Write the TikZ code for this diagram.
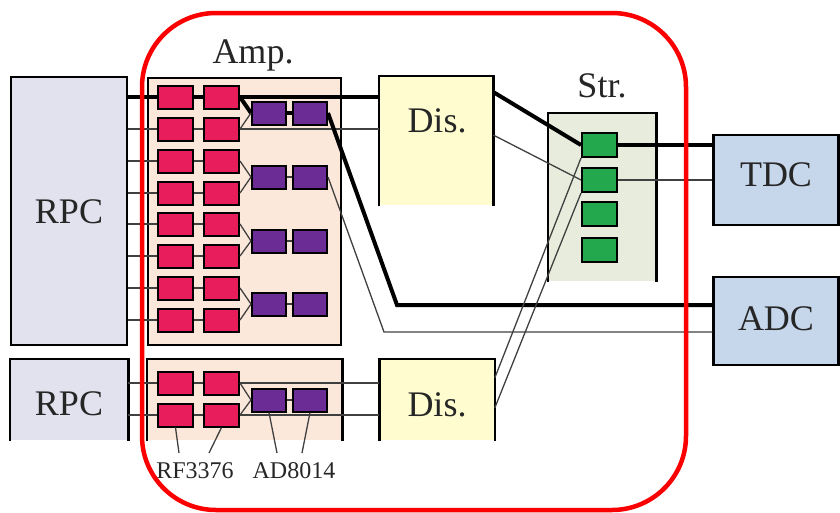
\documentclass[tikz,border=0pt]{standalone}
\usepackage{fontspec}
\setmainfont{Liberation Serif}
\definecolor{pinkc}{RGB}{232,30,92}
\definecolor{purpc}{RGB}{108,44,150}
\definecolor{grnc}{RGB}{36,168,78}
\definecolor{rpcc}{RGB}{226,226,239}
\definecolor{ampc}{RGB}{251,232,218}
\definecolor{disc}{RGB}{255,253,208}
\definecolor{strc}{RGB}{232,236,220}
\definecolor{tdcc}{RGB}{198,215,236}
\definecolor{redc}{RGB}{250,0,0}
\begin{document}
\begin{tikzpicture}[x=1pt,y=-1pt,
  bigtext/.style={anchor=base,inner sep=0pt,font=\fontsize{36}{40}\selectfont,text=black!85},
  lbltext/.style={anchor=base,inner sep=0pt,font=\fontsize{24}{28}\selectfont,text=black!85},
  panel/.style={inner sep=0pt,line width=2.5pt},
  chip/.style={draw=black,line width=2pt,minimum width=35pt,minimum height=23pt,inner sep=0pt},
  pinkchip/.style={chip,fill=pinkc},
  purpchip/.style={chip,fill=purpc,minimum width=34pt},
  grnchip/.style={chip,fill=grnc,minimum height=24pt},
  thk/.style={line width=4pt,draw=black},
  thn/.style={line width=1.3pt,draw=black!75},
  border/.style={line width=2.5pt,draw=black}
]
\useasboundingbox (0,0) rectangle (840,512);

% ---------- panels ----------
\node[panel,draw=black,fill=rpcc,minimum width=116pt,minimum height=268pt] (rpcA) at (69,211) {};
\node[panel,fill=rpcc,minimum width=116pt,minimum height=80pt] (rpcB) at (69,400) {};
\draw[border] (rpcB.south west) |- (rpcB.north east) -- (rpcB.south east);

\node[panel,draw=black,fill=ampc,minimum width=193pt,minimum height=267pt] (ampA) at (244.5,211.5) {};
\node[panel,fill=ampc,minimum width=193pt,minimum height=80pt] (ampB) at (244.5,400) {};
\draw[border] (ampB.south west) |- (ampB.north east) -- (ampB.south east);

\node[panel,fill=disc,minimum width=112pt,minimum height=128pt] (disA) at (436,141) {};
\draw[border] (disA.south west) |- (disA.north east) -- (disA.south east);
\node[panel,fill=disc,minimum width=113pt,minimum height=80pt] (disB) at (437,400) {};
\draw[border] (disB.south west) |- (disB.north east) -- (disB.south east);

\node[panel,fill=strc,minimum width=106pt,minimum height=167pt] (strb) at (602,197.5) {};
\draw[border] (strb.south west) |- (strb.north east) -- (strb.south east);

\node[panel,draw=black,fill=tdcc,minimum width=125pt,minimum height=90pt] (tdc) at (776,180) {};
\node[panel,draw=black,fill=tdcc,minimum width=125pt,minimum height=88pt] (adc) at (776,321) {};

% ---------- texts ----------
\node[bigtext] (tRpcA) at (69,223) {RPC};
\node[bigtext] (tRpcB) at (69,415) {RPC};
\node[bigtext] (tAmp) at (253,63) {Amp.};
\node[bigtext] (tDisA) at (437,132.5) {Dis.};
\node[bigtext] (tDisB) at (437,416) {Dis.};
\node[bigtext] (tStr) at (602,97) {Str.};
\node[bigtext] (tTdc) at (776,186.5) {TDC};
\node[bigtext] (tAdc) at (776,330) {ADC};
\node[lbltext] (tRF) at (195,478) {RF3376};
\node[lbltext] (tAD) at (294,478) {AD8014};

% ---------- chips ----------
\foreach \i/\y in {1/97,2/129,3/161,4/193,5/224,6/256,7/288,8/320}{
  \node[pinkchip] (pa\i) at (175.5,\y) {};
  \node[pinkchip] (pb\i) at (221.5,\y) {};
}
\foreach \j/\y in {1/113,2/177,3/241,4/304}{
  \node[purpchip] (qa\j) at (269,\y) {};
  \node[purpchip] (qb\j) at (310,\y) {};
}
\node[pinkchip] (sa1) at (175.5,383) {};
\node[pinkchip] (sb1) at (221.5,383) {};
\node[pinkchip] (sa2) at (175.5,415) {};
\node[pinkchip] (sb2) at (221.5,415) {};
\node[purpchip] (ra) at (269,400) {};
\node[purpchip] (rb) at (310,400) {};

\foreach \k/\y in {1/145,2/180,3/214,4/250}{
  \node[grnchip] (g\k) at (599.5,\y) {};
}

% ---------- free coordinates ----------
\coordinate (kA) at (397,305);
\coordinate (kB) at (384,332);

% ---------- connectors: big amplifier ----------
\draw[thk] (rpcA.east |- pa1.west) -- (pa1.west);
\draw[thk] (pa1) -- (pb1);
\draw[thk] (pb1.east) -- (disA.west |- pb1.east);
\foreach \i in {2,...,8}{
  \draw[thn] (rpcA.east |- pa\i.west) -- (pa\i.west);
  \draw[thn] (pa\i) -- (pb\i);
}
\draw[thk] (pb1.east) -- (qa1.west);
\draw[thn] (pb2.east) -- (qa1.west);
\draw[thn] (pb3.east) -- (qa2.west);
\draw[thn] (pb4.east) -- (qa2.west);
\draw[thn] (pb5.east) -- (qa3.west);
\draw[thn] (pb6.east) -- (qa3.west);
\draw[thn] (pb7.east) -- (qa4.west);
\draw[thn] (pb8.east) -- (qa4.west);
\draw[thk] (qa1) -- (qb1);
\foreach \j in {2,3,4}{ \draw[thn] (qa\j) -- (qb\j); }
\draw[thn] (pb2.east) -- (disA.west |- pb2.east);
\draw[thk] (qb1.east) -- (kA) -- (adc.west |- kA);
\draw[thn] (qb2.east) -- (kB) -- (adc.west |- kB);

% ---------- connectors: small amplifier ----------
\draw[thn] (rpcB.east |- sa1.west) -- (sa1.west);
\draw[thn] (rpcB.east |- sa2.west) -- (sa2.west);
\draw[thn] (sa1) -- (sb1);
\draw[thn] (sa2) -- (sb2);
\draw[thn] (sb1.east) -- (disB.west |- sb1.east);
\draw[thn] (sb2.east) -- (disB.west |- sb2.east);
\draw[thn] (sb1.east) -- (ra.west);
\draw[thn] (sb2.east) -- (ra.west);
\draw[thn] (ra) -- (rb);

% ---------- discriminators to stretcher ----------
\draw[thk] (disA.east |- 0,92) -- (g1.west);
\draw[thn] (disA.east |- 0,135) -- (g2.west);
\draw[thn] (disB.east |- 0,378) -- (g1.south west);
\draw[thn] (disB.east |- 0,408) -- (g2.south west);
\draw[thk] (g1.east) -- (tdc.west |- g1.east);
\draw[thn] (g2.east) -- (tdc.west |- g2.east);

% ---------- part labels ----------
\draw[thn] (sa2.south) -- (179,453);
\draw[thn] (sb2.south) -- (209,453);
\draw[thn] (ra.south) -- (277,453);
\draw[thn] (rb.south) -- (302,453);

% ---------- red outline ----------
\draw[redc,line width=4.5pt,rounded corners=74pt] (142,13) rectangle (686,510);
\end{tikzpicture}
\end{document}
